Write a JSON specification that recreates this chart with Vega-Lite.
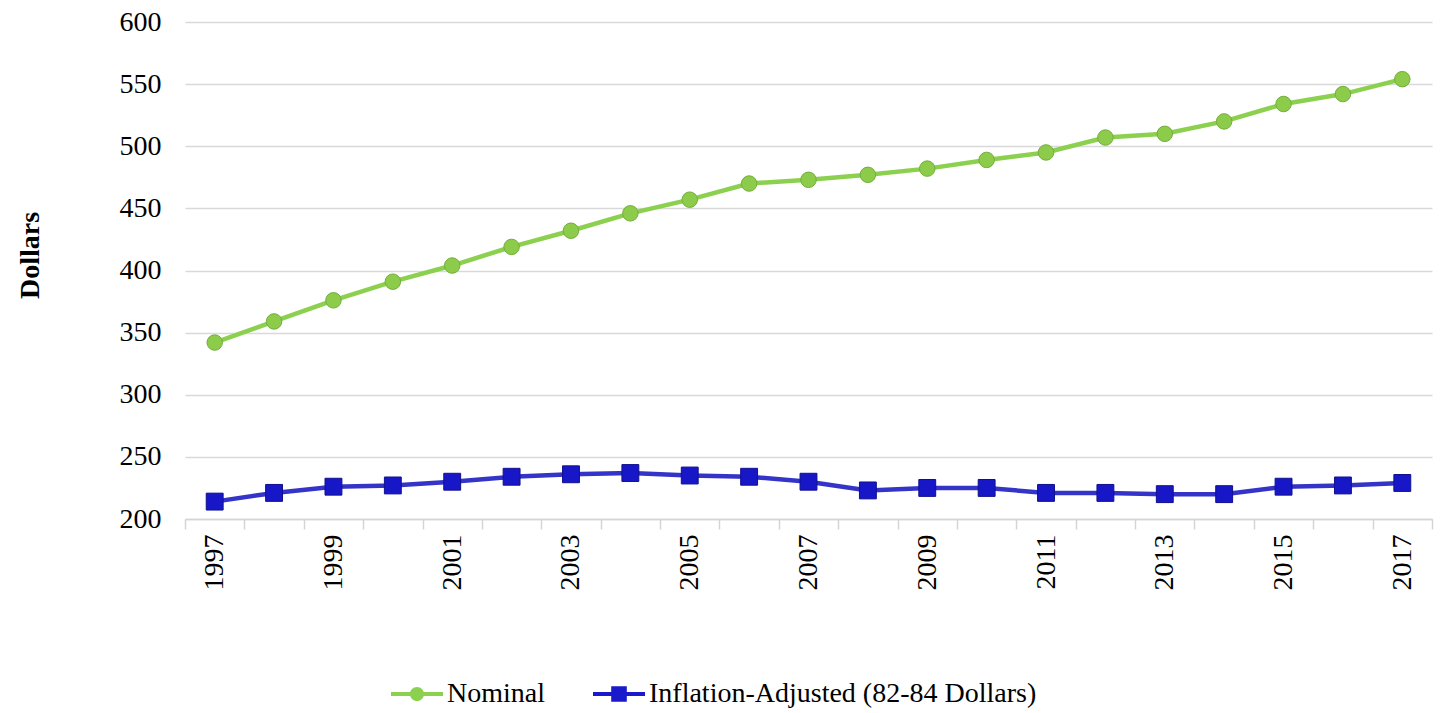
{
  "$schema": "https://vega.github.io/schema/vega-lite/v6.json",
  "width": 1247,
  "height": 497,
  "autosize": {"type": "none"},
  "padding": {"left": 185, "top": 22, "right": 10, "bottom": 194},
  "background": "white",
  "config": {
    "font": "Liberation Serif",
    "view": {"stroke": null}
  },
  "data": {
    "values": [
      {"year": "1997", "series": "Nominal", "value": 342},
      {"year": "1998", "series": "Nominal", "value": 359},
      {"year": "1999", "series": "Nominal", "value": 376},
      {"year": "2000", "series": "Nominal", "value": 391},
      {"year": "2001", "series": "Nominal", "value": 404},
      {"year": "2002", "series": "Nominal", "value": 419},
      {"year": "2003", "series": "Nominal", "value": 432},
      {"year": "2004", "series": "Nominal", "value": 446},
      {"year": "2005", "series": "Nominal", "value": 457},
      {"year": "2006", "series": "Nominal", "value": 470},
      {"year": "2007", "series": "Nominal", "value": 473},
      {"year": "2008", "series": "Nominal", "value": 477},
      {"year": "2009", "series": "Nominal", "value": 482},
      {"year": "2010", "series": "Nominal", "value": 489},
      {"year": "2011", "series": "Nominal", "value": 495},
      {"year": "2012", "series": "Nominal", "value": 507},
      {"year": "2013", "series": "Nominal", "value": 510},
      {"year": "2014", "series": "Nominal", "value": 520},
      {"year": "2015", "series": "Nominal", "value": 534},
      {"year": "2016", "series": "Nominal", "value": 542},
      {"year": "2017", "series": "Nominal", "value": 554},
      {"year": "1997", "series": "Inflation-Adjusted (82-84 Dollars)", "value": 214},
      {"year": "1998", "series": "Inflation-Adjusted (82-84 Dollars)", "value": 221},
      {"year": "1999", "series": "Inflation-Adjusted (82-84 Dollars)", "value": 226},
      {"year": "2000", "series": "Inflation-Adjusted (82-84 Dollars)", "value": 227},
      {"year": "2001", "series": "Inflation-Adjusted (82-84 Dollars)", "value": 230},
      {"year": "2002", "series": "Inflation-Adjusted (82-84 Dollars)", "value": 234},
      {"year": "2003", "series": "Inflation-Adjusted (82-84 Dollars)", "value": 236},
      {"year": "2004", "series": "Inflation-Adjusted (82-84 Dollars)", "value": 237},
      {"year": "2005", "series": "Inflation-Adjusted (82-84 Dollars)", "value": 235},
      {"year": "2006", "series": "Inflation-Adjusted (82-84 Dollars)", "value": 234},
      {"year": "2007", "series": "Inflation-Adjusted (82-84 Dollars)", "value": 230},
      {"year": "2008", "series": "Inflation-Adjusted (82-84 Dollars)", "value": 223},
      {"year": "2009", "series": "Inflation-Adjusted (82-84 Dollars)", "value": 225},
      {"year": "2010", "series": "Inflation-Adjusted (82-84 Dollars)", "value": 225},
      {"year": "2011", "series": "Inflation-Adjusted (82-84 Dollars)", "value": 221},
      {"year": "2012", "series": "Inflation-Adjusted (82-84 Dollars)", "value": 221},
      {"year": "2013", "series": "Inflation-Adjusted (82-84 Dollars)", "value": 220},
      {"year": "2014", "series": "Inflation-Adjusted (82-84 Dollars)", "value": 220},
      {"year": "2015", "series": "Inflation-Adjusted (82-84 Dollars)", "value": 226},
      {"year": "2016", "series": "Inflation-Adjusted (82-84 Dollars)", "value": 227},
      {"year": "2017", "series": "Inflation-Adjusted (82-84 Dollars)", "value": 229}
    ]
  },
  "encoding": {
    "x": {
      "field": "year",
      "type": "ordinal",
      "scale": {"type": "band", "paddingInner": 0, "paddingOuter": 0},
      "axis": {
        "title": null,
        "tickBand": "extent",
        "labelAngle": 270,
        "labelAlign": "right",
        "labelBaseline": "middle",
        "labelFontSize": 28,
        "labelColor": "black",
        "labelPadding": 5,
        "labelOverlap": false,
        "labelExpr": "toNumber(datum.value) % 2 == 1 ? datum.label : ''",
        "tickSize": 10,
        "tickColor": "#d4d4d4",
        "tickWidth": 1.5,
        "domainColor": "#d4d4d4",
        "domainWidth": 1.5,
        "grid": false
      }
    },
    "y": {
      "field": "value",
      "type": "quantitative",
      "scale": {"domain": [200, 600], "zero": false, "nice": false},
      "axis": {
        "title": "Dollars",
        "titleFontSize": 28,
        "titleFontWeight": "bold",
        "titleColor": "black",
        "titleAngle": -90,
        "titleX": -155,
        "titleY": 233,
        "titleAlign": "center",
        "titleBaseline": "middle",
        "values": [200, 250, 300, 350, 400, 450, 500, 550, 600],
        "labelFontSize": 28,
        "labelColor": "black",
        "labelPadding": 24,
        "ticks": false,
        "domain": false,
        "grid": true,
        "gridColor": "#d9d9d9",
        "gridWidth": 1.5
      }
    }
  },
  "layer": [
    {
      "mark": {"type": "line", "strokeWidth": 4.5},
      "encoding": {
        "color": {
          "field": "series",
          "type": "nominal",
          "scale": {
            "domain": ["Nominal", "Inflation-Adjusted (82-84 Dollars)"],
            "range": ["#8cd04f", "#3434c8"]
          },
          "legend": {
            "title": null,
            "orient": "none",
            "direction": "horizontal",
            "legendX": 218,
            "legendY": 658,
            "labelFontSize": 28,
            "labelColor": "black",
            "labelFont": "Liberation Serif",
            "labelLimit": 800,
            "symbolSize": 676,
            "columnPadding": 48,
            "labelOffset": 16,
            "encode": {
              "symbols": {
                "update": {
                  "shape": {"signal": "datum.value == 'Nominal' ? 'M-2,-0.15H-0.5V0.15H-2Z M0.5,-0.15H2V0.15H0.5Z M0.54,0A0.54,0.54 0 1,1 -0.54,0A0.54,0.54 0 1,1 0.54,0Z' : 'M-2,-0.15H-0.6V0.15H-2Z M0.6,-0.15H2V0.15H0.6Z M-0.6,-0.6H0.6V0.6H-0.6Z'"},
                  "fill": {"signal": "datum.value == 'Nominal' ? '#8cd04f' : '#1a1acc'"},
                  "strokeWidth": {"value": 0}
                }
              }
            }
          }
        }
      }
    },
    {
      "mark": {"type": "point", "filled": true, "opacity": 1, "strokeWidth": 1},
      "encoding": {
        "shape": {
          "condition": {"test": "datum.series == 'Nominal'", "value": "circle"},
          "value": "square"
        },
        "size": {
          "condition": {"test": "datum.series == 'Nominal'", "value": 240},
          "value": 285
        },
        "fill": {
          "condition": {"test": "datum.series == 'Nominal'", "value": "#8ccc4a"},
          "value": "#1717c8"
        },
        "stroke": {
          "condition": {"test": "datum.series == 'Nominal'", "value": "#74ad3c"},
          "value": "#10108f"
        }
      }
    }
  ]
}
